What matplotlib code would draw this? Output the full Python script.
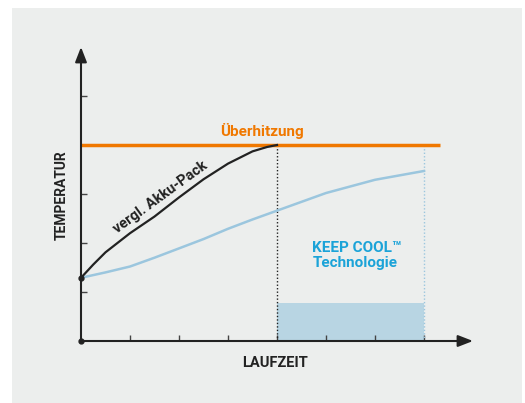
import matplotlib
matplotlib.use("Agg")
import matplotlib.pyplot as plt
from matplotlib.patches import Rectangle

# Werte (Achsen ohne Einheiten, 1 Einheit = ein Tick)
akku_x = [0, 0.25, 0.5, 1.0, 1.5, 2.0, 2.5, 3.0, 3.5, 3.8, 4.0]
akku_y = [1.29, 1.56, 1.81, 2.2, 2.54, 2.93, 3.3, 3.62, 3.87, 3.96, 4.0]
keepcool_x = [0, 0.5, 1, 1.5, 2, 2.5, 3, 3.5, 4, 5, 6, 7]
keepcool_y = [1.29, 1.40, 1.52, 1.70, 1.89, 2.08, 2.29, 2.48, 2.66, 3.02, 3.29, 3.47]
ueberhitzung_y = 4.0
ueberhitzung_xmax = 7.33
vorteil_x = (4.0, 7.0)
vorteil_y = 0.78

BG = "#eceeed"
ORANGE = "#f07800"
HELLBLAU = "#9bc6de"
FLAECHE = "#b8d5e3"
CYAN = "#1ba3d8"
DUNKEL = "#222222"
FONT = ["Roboto", "DejaVu Sans"]

fig = plt.figure(figsize=(5.25, 4.03), dpi=100)
fig.patch.set_facecolor("white")
fig.patches.append(Rectangle((12 / 525, 0), 510 / 525, 395 / 403,
                             transform=fig.transFigure, facecolor=BG,
                             edgecolor="none", zorder=-10))

ax = fig.add_axes([81 / 525, 62 / 403, 392 / 525, 294 / 403])
ax.set_zorder(1)
ax.set_facecolor("none")
ax.set_xlim(0, 8)
ax.set_ylim(0, 6)
for s in ax.spines.values():
    s.set_visible(False)
ax.set_xticks(range(1, 8))
ax.set_yticks(range(1, 6))
ax.tick_params(direction="in", length=4, width=1, color="#444",
               labelbottom=False, labelleft=False)

# Achsen mit Pfeilen
pfeil = dict(arrowstyle="-|>,head_length=0.9,head_width=0.35", color=DUNKEL,
             lw=1.5, shrinkA=0, shrinkB=0)
ax.annotate("", xy=(8, 0), xytext=(0, 0), arrowprops=pfeil, annotation_clip=False)
ax.annotate("", xy=(0, 6), xytext=(0, 0), arrowprops=pfeil, annotation_clip=False)

ax.add_patch(Rectangle((vorteil_x[0], 0), vorteil_x[1] - vorteil_x[0], vorteil_y,
                       facecolor=FLAECHE, edgecolor="none", zorder=1))
ax.plot([vorteil_x[0]] * 2, [0, ueberhitzung_y], color=DUNKEL, lw=1, ls=(0, (1, 1.5)))
ax.plot([vorteil_x[1]] * 2, [0, ueberhitzung_y], color=HELLBLAU, lw=1, ls=(0, (1, 1.5)))

ax.plot([0, ueberhitzung_xmax], [ueberhitzung_y] * 2, color=ORANGE, lw=2.5,
        solid_capstyle="butt", clip_on=False)
ax.plot(keepcool_x, keepcool_y, color=HELLBLAU, lw=1.8)
ax.plot(akku_x, akku_y, color=DUNKEL, lw=1.6)
ax.plot([0, 0], [0, akku_y[0]], "o", color=DUNKEL, ms=3.5, clip_on=False, zorder=5)

ax.text(3.69, 4.29, "Überhitzung", color=ORANGE, fontsize=11, weight="bold",
        ha="center", va="center", family=FONT)
ax.text(1.62, 2.93, "vergl. Akku-Pack", color=DUNKEL, fontsize=10.5, weight="bold",
        ha="center", va="center", rotation=36, rotation_mode="anchor", family=FONT)
ax.text(4.72, 1.75, "KEEP COOL™\nTechnologie", color=CYAN, fontsize=11,
        weight="bold", ha="left", va="center", linespacing=1.05, family=FONT)

fig.text(62 / 525, 1 - 195 / 403, "TEMPERATUR", rotation=90, fontsize=10,
         weight="bold", color=DUNKEL, ha="center", va="center", family=FONT)
fig.text(275 / 525, 1 - 363 / 403, "LAUFZEIT", fontsize=10.5, weight="bold",
         color=DUNKEL, ha="center", va="center", family=FONT)

fig.savefig("out.png", dpi=100, facecolor=fig.get_facecolor())
